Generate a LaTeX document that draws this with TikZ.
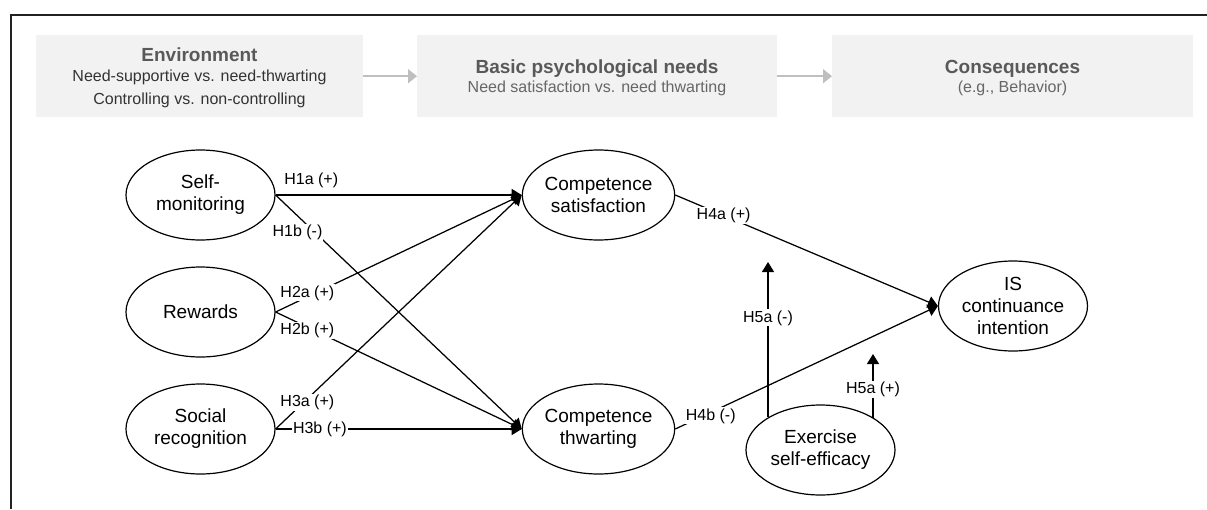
\documentclass[tikz,border=0pt]{standalone}
\usepackage{fontspec}
\setmainfont{Liberation Sans}
\usetikzlibrary{arrows.meta,shapes.geometric}
\definecolor{boxgray}{HTML}{F2F2F2}
\definecolor{titlegray}{HTML}{595959}
\definecolor{subdark}{HTML}{333333}
\definecolor{sublight}{HTML}{666666}
\definecolor{arrowgray}{HTML}{BFBFBF}
\definecolor{framecol}{HTML}{222222}
\begin{document}
\begin{tikzpicture}[x=1pt,y=-1pt,
  hdrbox/.style={fill=boxgray, draw=none, minimum height=82pt, inner sep=0pt, anchor=north west},
  titletext/.style={text=titlegray, inner sep=0pt, font=\fontsize{19}{22}\selectfont\bfseries},
  subdarktext/.style={text=subdark, inner sep=0pt, font=\fontsize{16}{19}\selectfont},
  sublighttext/.style={text=sublight, inner sep=0pt, font=\fontsize{16}{19}\selectfont},
  hdrarrow/.style={draw=arrowgray, line width=2pt, -{Triangle[length=9pt,width=14pt]}},
  latent/.style={ellipse, draw, line width=1.2pt, minimum width=149pt, minimum height=90pt,
    inner sep=0pt, align=center, font=\fontsize{19}{22}\selectfont},
  conn/.style={draw, line width=1.25pt, -{Triangle[length=10pt,width=12pt]}},
  lbl/.style={fill=white, inner sep=1pt, font=\fontsize{16}{18}\selectfont}
]
\useasboundingbox (0,0) rectangle (1207,509);
% frame
\draw[framecol, line width=2pt] (11,509) -- (11,15) -- (1207,15);

% header boxes
\node[hdrbox, minimum width=327pt] (env) at (36,35) {};
\node[hdrbox, minimum width=360pt] (bpn) at (417,35) {};
\node[hdrbox, minimum width=361pt] (con) at (832,35) {};
\node[titletext] (envt) at (199.5,55) {Environment};
\node[subdarktext] (envs1) at (199.5,77.5) {Need-supportive vs. need-thwarting};
\node[subdarktext] (envs2) at (199.5,100) {Controlling vs. non-controlling};
\node[titletext] (bpnt) at (597,68.5) {Basic psychological needs};
\node[sublighttext] (bpns) at (597,88.5) {Need satisfaction vs. need thwarting};
\node[titletext] (cont) at (1012.5,68.5) {Consequences};
\node[sublighttext] (cons) at (1012.5,88.5) {(e.g., Behavior)};
\draw[hdrarrow] (env.east) -- (bpn.west);
\draw[hdrarrow] (bpn.east) -- (con.west);

% constructs
\node[latent] (sm) at (200.5,195) {Self-\\monitoring};
\node[latent] (rw) at (200.5,312) {Rewards};
\node[latent] (sr) at (200.5,429) {Social\\recognition};
\node[latent] (cs) at (598.5,195) {Competence\\satisfaction};
\node[latent] (ct) at (598.5,429) {Competence\\thwarting};
\node[latent] (is) at (1013,306) {IS\\continuance\\intention};
\node[latent] (ese) at (820.5,450) {Exercise\\self-efficacy};

% paths
\draw[conn] (sm.east) -- node[lbl, pos=0.145, above=6pt] {H1a (+)} (cs.west);
\draw[conn] (sm.east) -- node[lbl, pos=0.089, yshift=-17pt] {H1b (-)} (ct.west);
\draw[conn] (rw.east) -- node[lbl, pos=0.129, yshift=4pt] {H2a (+)} (cs.west);
\draw[conn] (rw.east) -- node[lbl, pos=0.129, yshift=-3pt] {H2b (+)} (ct.west);
\draw[conn] (sr.east) -- node[lbl, pos=0.129, yshift=-4pt] {H3a (+)} (cs.west);
\draw[conn] (sr.east) -- node[lbl, pos=0.18] {H3b (+)} (ct.west);
\draw[conn] (cs.east) -- node[lbl, pos=0.184] {H4a (+)} (is.west);
\draw[conn] (ct.east) -- node[lbl, pos=0.135, yshift=-3.5pt] {H4b (-)} (is.west);

% moderation
\coordinate (t1) at (768,262);
\coordinate (t2) at (873,354);
\draw[conn] (t1 |- ese.148) -- node[lbl, pos=0.64] {H5a (-)} (t1);
\draw[conn] (t2 |- ese.31) -- node[lbl, pos=0.45] {H5a (+)} (t2);
\end{tikzpicture}
\end{document}
